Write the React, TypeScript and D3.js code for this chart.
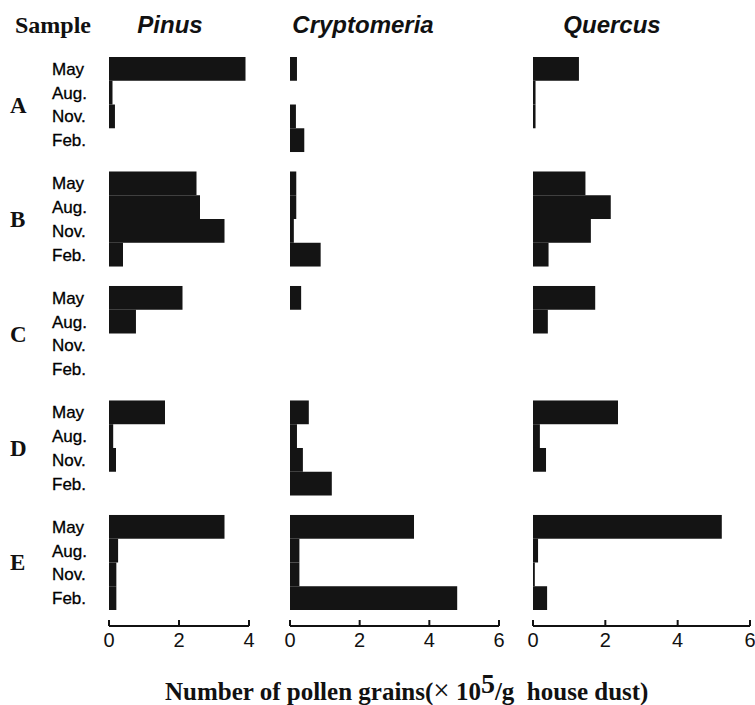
import React from "react";
import * as d3 from "d3";

const samples = ["A", "B", "C", "D", "E"];
const months = ["May", "Aug.", "Nov.", "Feb."];
const taxa = ["Pinus", "Cryptomeria", "Quercus"];

// values per sample: [May, Aug., Nov., Feb.]  (x10^5 grains / g house dust)
const pinusValues = [
  [3.9, 0.1, 0.17, 0],
  [2.5, 2.6, 3.3, 0.4],
  [2.1, 0.77, 0, 0],
  [1.6, 0.12, 0.2, 0],
  [3.3, 0.26, 0.21, 0.21],
];
const cryptomeriaValues = [
  [0.2, 0, 0.17, 0.41],
  [0.18, 0.18, 0.11, 0.88],
  [0.32, 0, 0, 0],
  [0.54, 0.2, 0.37, 1.2],
  [3.56, 0.27, 0.27, 4.8],
];
const quercusValues = [
  [1.27, 0.07, 0.07, 0],
  [1.45, 2.15, 1.6, 0.43],
  [1.72, 0.41, 0, 0],
  [2.35, 0.19, 0.36, 0],
  [5.22, 0.14, 0.05, 0.39],
];

const pinusTicks = [0, 2, 4];
const cryptomeriaTicks = [0, 2, 4, 6];
const quercusTicks = [0, 2, 4, 6];

const W = 755;
const H = 705;
const BAR = "#141414";
const SERIF = "'Liberation Serif', 'Times New Roman', serif";
const SANS = "'Liberation Sans', Arial, sans-serif";

export default function App() {
  const groupY = d3
    .scaleBand<string>()
    .domain(samples)
    .range([57, 610])
    .paddingInner(0.17);
  const monthY = d3
    .scaleBand<string>()
    .domain(months)
    .range([0, groupY.bandwidth()]);

  const panels = [
    { name: taxa[0], values: pinusValues, ticks: pinusTicks, x: d3.scaleLinear().domain([0, 4]).range([109, 249]), titleX: 170 },
    { name: taxa[1], values: cryptomeriaValues, ticks: cryptomeriaTicks, x: d3.scaleLinear().domain([0, 6]).range([290, 499]), titleX: 363 },
    { name: taxa[2], values: quercusValues, ticks: quercusTicks, x: d3.scaleLinear().domain([0, 6]).range([533, 750]), titleX: 612 },
  ];

  const axisY = 626;

  return (
    <svg
      width={W}
      height={H}
      viewBox={`0 0 ${W} ${H}`}
      style={{ position: "absolute", left: 0, top: 0, background: "#fff" }}
    >
      <rect x={0} y={0} width={W} height={H} fill="#fff" />
      <text x={15} y={33} fontFamily={SERIF} fontWeight="bold" fontSize={24} fill="#111">
        Sample
      </text>

      {samples.map((s) => {
        const gy = groupY(s)!;
        return (
          <g key={s}>
            <text
              x={10}
              y={gy + groupY.bandwidth() / 2 + 8}
              fontFamily={SERIF}
              fontWeight="bold"
              fontSize={23}
              fill="#111"
            >
              {s}
            </text>
            {months.map((m) => (
              <text
                key={m}
                x={52}
                y={gy + monthY(m)! + monthY.bandwidth() / 2 + 6}
                fontFamily={SANS}
                fontSize={17}
                fill="#000"
                stroke="#000"
                strokeWidth={0.3}
              >
                {m}
              </text>
            ))}
          </g>
        );
      })}

      {panels.map((p) => (
        <g key={p.name}>
          <text
            x={p.titleX}
            y={33}
            textAnchor="middle"
            fontFamily={SANS}
            fontStyle="italic"
            fontWeight="bold"
            fontSize={24}
            fill="#111"
          >
            {p.name}
          </text>
          {samples.map((s, si) => {
            const gy = groupY(s)!;
            return months.map((m, mi) => {
              const v = p.values[si][mi];
              if (v <= 0) return null;
              return (
                <rect
                  key={s + m}
                  x={p.x(0)}
                  y={gy + monthY(m)!}
                  width={p.x(v) - p.x(0)}
                  height={monthY.bandwidth()}
                  fill={BAR}
                />
              );
            });
          })}
          <line
            x1={p.x(p.ticks[0])}
            x2={p.x(p.ticks[p.ticks.length - 1])}
            y1={axisY}
            y2={axisY}
            stroke="#111"
            strokeWidth={2}
          />
          {p.ticks.map((t) => (
            <g key={t}>
              <line x1={p.x(t)} x2={p.x(t)} y1={axisY} y2={axisY - 6} stroke="#111" strokeWidth={2} />
              <text
                x={p.x(t)}
                y={axisY + 21}
                textAnchor="middle"
                fontFamily={SANS}
                fontSize={20}
                fill="#111"
              >
                {t}
              </text>
            </g>
          ))}
        </g>
      ))}

      <text x={165} y={700} fontFamily={SERIF} fontWeight="bold" fontSize={25} fill="#111">
        Number of pollen grains(
        <tspan fontWeight="normal" fontSize={29}>×</tspan>
        {" 10"}
        <tspan fontSize={28} dy={-7}>5</tspan>
        <tspan dy={7}>{"/g\u00a0\u00a0house dust)"}</tspan>
      </text>
    </svg>
  );
}
